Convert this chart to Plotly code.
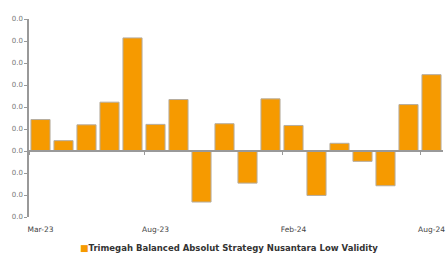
import plotly.graph_objects as go

# Monthly values (Mar-23 .. Aug-24)
months = ["Mar-23", "Apr-23", "May-23", "Jun-23", "Jul-23", "Aug-23", "Sep-23", "Oct-23", "Nov-23",
          "Dec-23", "Jan-24", "Feb-24", "Mar-24", "Apr-24", "May-24", "Jun-24", "Jul-24", "Aug-24"]
values = [0.0143, 0.0047, 0.0119, 0.0222, 0.0514, 0.0121, 0.0234, -0.0232, 0.0124,
          -0.0146, 0.0237, 0.0116, -0.0202, 0.0035, -0.0047, -0.0158, 0.0211, 0.0347]
series_name = "Trimegah Balanced Absolut Strategy Nusantara Low Validity"

y_tickvals = [-0.03, -0.02, -0.01, 0.0, 0.01, 0.02, 0.03, 0.04, 0.05, 0.06]
y_ticktext = ["0.0"] * len(y_tickvals)
x_label_months = ["Mar-23", "Aug-23", "Feb-24", "Aug-24"]

bar_color = "#F69A00"
x_idx = list(range(len(months)))
label_pos = [months.index(m) for m in x_label_months]
boundary_pos = [p - 0.5 for p in label_pos]

ymin, ymax = y_tickvals[0], y_tickvals[-1]
zero_frac = (0 - ymin) / (ymax - ymin)

fig = go.Figure()
fig.add_trace(go.Bar(
    x=x_idx, y=values, name=series_name,
    marker=dict(color=bar_color, line=dict(color="#B5ADA0", width=1)),
    showlegend=False,
))
fig.add_trace(go.Scatter(x=x_idx, y=values, xaxis="x2", mode="none",
                         showlegend=False, hoverinfo="skip"))

fig.add_annotation(
    xref="paper", yref="paper", x=0.483, y=-0.157, xanchor="center", yanchor="middle",
    showarrow=False,
    text=f"<span style='color:{bar_color};font-size:9px'>■</span><b>{series_name}</b>",
    font=dict(size=8.5, color="#333", family="DejaVu Sans"),
)

fig.update_layout(
    width=447, height=253,
    margin=dict(l=29, r=4, t=19, b=36, autoexpand=False),
    paper_bgcolor="white", plot_bgcolor="white",
    bargap=0.17, showlegend=False,
    font=dict(family="DejaVu Sans", color="#555"),
    xaxis=dict(
        range=[-0.5, len(months) - 0.5],
        tickvals=label_pos, ticktext=x_label_months,
        ticks="outside", ticklen=5, tickcolor="rgba(0,0,0,0)",
        showline=False, showgrid=False, zeroline=False,
        tickfont=dict(size=7.5, color="#444"), automargin=False,
    ),
    xaxis2=dict(
        overlaying="x", matches="x", anchor="free", position=zero_frac,
        showline=True, linecolor="#999", linewidth=1.5,
        ticks="outside", ticklen=3, tickcolor="#999",
        tickvals=boundary_pos, showticklabels=False,
        showgrid=False, zeroline=False, automargin=False,
    ),
    yaxis=dict(
        range=[ymin, ymax], tickvals=y_tickvals, ticktext=y_ticktext,
        showline=True, linecolor="#999", linewidth=1.5,
        ticks="outside", ticklen=3, tickcolor="#999",
        showgrid=False, zeroline=False,
        tickfont=dict(size=7, color="#777"), automargin=False,
    ),
)
fig.write_html("out.html", config={"displayModeBar": False},
               post_script="document.body.style.margin='0';")
